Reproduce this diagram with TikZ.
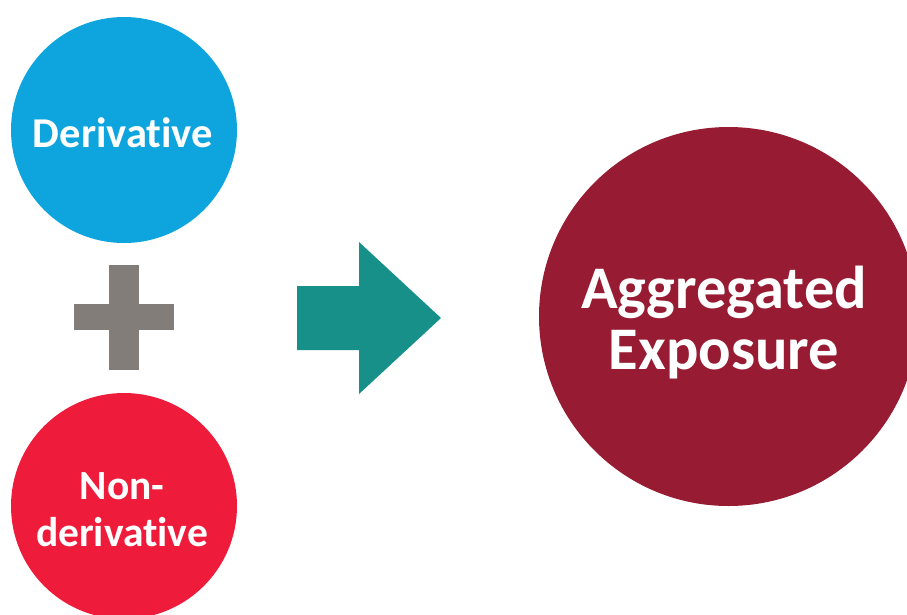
\documentclass[tikz,border=0pt]{standalone}
\usepackage{fontspec}
\setmainfont[Ligatures={NoCommon,NoRare,NoContextual}]{Carlito}
\definecolor{derblue}{HTML}{0EA5DE}
\definecolor{nonred}{HTML}{EE1C3A}
\definecolor{plusgray}{HTML}{827D79}
\definecolor{arrowteal}{HTML}{17908A}
\definecolor{aggred}{HTML}{971B32}
\begin{document}
\begin{tikzpicture}[x=1pt,y=-1pt,
  disc/.style={circle,inner sep=0pt,draw=none},
  label/.style={text=white,font=\bfseries,anchor=base,inner sep=0pt}]
\useasboundingbox (0,0) rectangle (907,614);
\begin{scope}
\clip (0,0) rectangle (907,614);
\node[disc,fill=derblue,minimum size=226pt] (der) at (124,130) {};
\node[disc,fill=nonred,minimum size=226pt] (non) at (124,506) {};
\node[disc,fill=aggred,minimum size=379pt] (agg) at (728.5,316.5) {};
\end{scope}
% plus sign
\fill[plusgray] (109,265) rectangle (139,370);
\fill[plusgray] (74,304) rectangle (174,330);
% arrow
\fill[arrowteal] (297,286) -- (359,286) -- (359,242) -- (441,318) -- (359,394) -- (359,350) -- (297,350) -- cycle;
% labels
\node[label,font=\bfseries\fontsize{42.5}{42.5}\selectfont] (derl) at (123,147) {Derivative};
\node[label,font=\bfseries\fontsize{41.5}{41.5}\selectfont] (nonl1) at (122,499) {Non-};
\node[label,font=\bfseries\fontsize{41.5}{41.5}\selectfont] (nonl2) at (122,546) {derivative};
\node[label,font=\bfseries\fontsize{60.5}{60.5}\selectfont] (aggl1) at (724,308) {Aggregated};
\node[label,font=\bfseries\fontsize{60.5}{60.5}\selectfont] (aggl2) at (724,369) {Exposure};
\end{tikzpicture}
\end{document}
